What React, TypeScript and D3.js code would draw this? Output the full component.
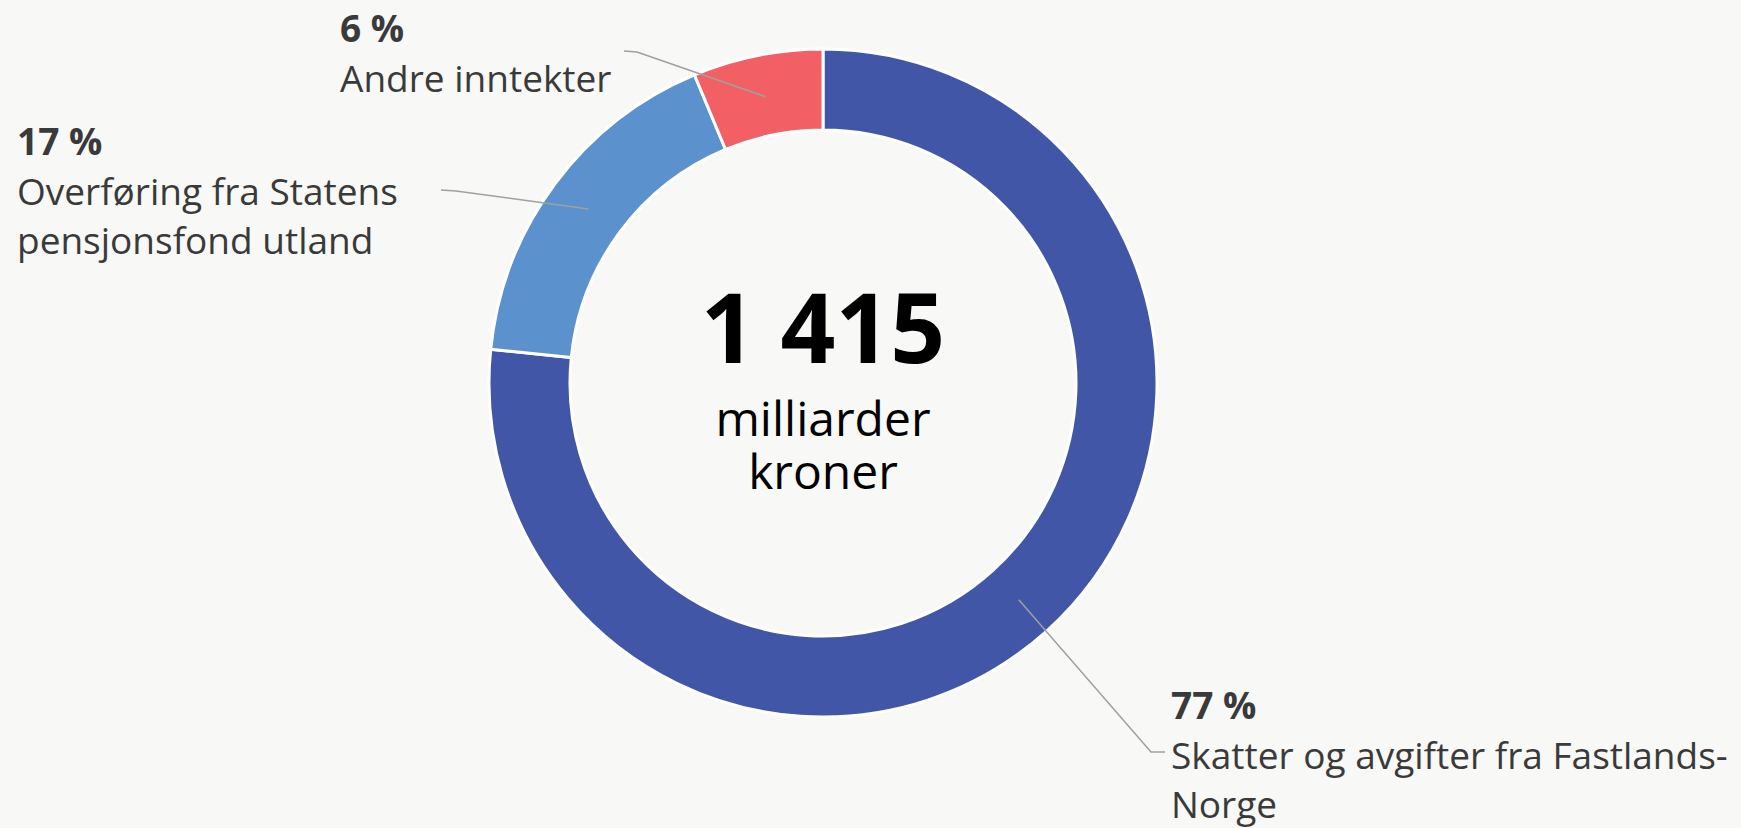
import React from 'react';
import * as d3 from 'd3';

// Statens inntekter, milliarder kroner
const categories = ['Skatter og avgifter fra Fastlands-Norge', 'Overføring fra Statens pensjonsfond utland', 'Andre inntekter'];
const values = [1084, 242, 89];
const percentLabels = ['77 %', '17 %', '6 %'];
const labelLines = [
  ['Skatter og avgifter fra Fastlands-', 'Norge'],
  ['Overføring fra Statens', 'pensjonsfond utland'],
  ['Andre inntekter'],
];
const colors = ['#4256a8', '#5b91cc', '#f25f64'];
const totalLabel = '1 415';
const unitLines = ['milliarder', 'kroner'];

const W = 1741;
const H = 828;
const cx = 823;
const cy = 383;
const outerR = 334;
const innerR = 253;
const font = '"Open Sans", "Noto Sans", sans-serif';

// where each label block sits, and the elbow of its leader line
const labelPos = [
  { x: 1171, y: 719, elbow: [1151, 752], end: [1165, 752] },
  { x: 17, y: 155, elbow: [456, 191], end: [441, 190] },
  { x: 340, y: 42, elbow: [637, 52], end: [624, 51] },
];

const App = () => {
  const pie = d3.pie<number>().sort(null).value(d => d);
  const arcs = pie(values);
  const arc = d3.arc<d3.PieArcDatum<number>>().innerRadius(innerR).outerRadius(outerR);
  const midArc = d3.arc<d3.PieArcDatum<number>>().innerRadius(292).outerRadius(292);

  return (
    <svg width={W} height={H} style={{ position: 'absolute', left: 0, top: 0, background: '#f8f8f6' }}>
      <rect width={W} height={H} fill="#f8f8f6" />
      <g transform={`translate(${cx},${cy})`}>
        {arcs.map((a, i) => (
          <path key={categories[i]} d={arc(a) || ''} fill={colors[i]} stroke="#fff" strokeWidth={3} />
        ))}
      </g>
      {arcs.map((a, i) => {
        const [mx, my] = midArc.centroid(a);
        const p = labelPos[i];
        const pts = [[cx + mx, cy + my], p.elbow, p.end];
        return (
          <path key={'l' + i} d={d3.line()(pts as [number, number][]) || ''} fill="none" stroke="#a0a0a0" strokeWidth={1.5} />
        );
      })}
      {labelPos.map((p, i) => (
        <g key={'t' + i} fill="#3a3a3a" fontFamily={font}>
          <text x={p.x} y={p.y} fontSize={37} fontWeight={700}>{percentLabels[i]}</text>
          {labelLines[i].map((ln, j) => (
            <text key={j} x={p.x} y={p.y + 50 + j * 49} fontSize={37}>{ln}</text>
          ))}
        </g>
      ))}
      <g fontFamily={font} textAnchor="middle" fill="#000">
        <text x={cx} y={363} fontSize={96} fontWeight={700}>{totalLabel}</text>
        {unitLines.map((u, j) => (
          <text key={u} x={cx} y={436 + j * 53} fontSize={48}>{u}</text>
        ))}
      </g>
    </svg>
  );
};

export default App;
